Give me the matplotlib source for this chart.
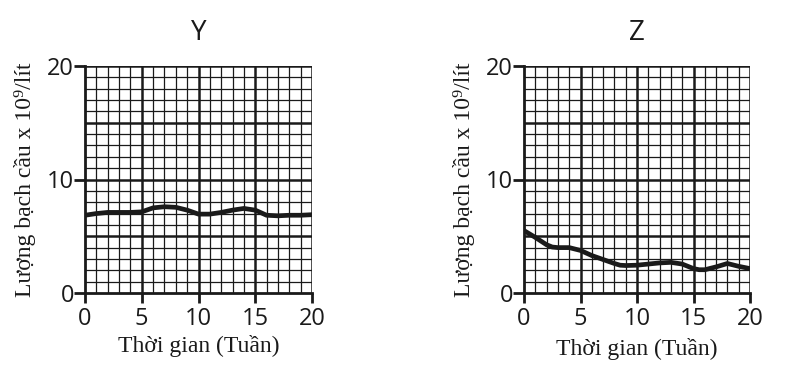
import matplotlib
matplotlib.use("Agg")
import matplotlib.pyplot as plt
import numpy as np

weeks = [0, 1, 2, 3, 4, 5, 6, 7, 8, 9, 10, 11, 12, 13, 14, 15, 16, 17, 18, 19, 20]
y_counts = [6.85, 7.0, 7.1, 7.1, 7.1, 7.15, 7.5, 7.6, 7.55, 7.3, 6.95, 6.95, 7.1, 7.3, 7.45, 7.3, 6.85, 6.8, 6.85, 6.85, 6.9]
z_weeks = [0, 1, 2, 2.5, 3, 4, 5, 6, 7, 8, 8.5, 9, 10, 11, 12, 13, 14, 15, 15.5, 16, 17, 18, 19, 20]
z_counts = [5.5, 4.9, 4.25, 4.05, 4.0, 4.0, 3.75, 3.3, 2.95, 2.6, 2.45, 2.42, 2.45, 2.55, 2.65, 2.7, 2.55, 2.15, 2.05, 2.05, 2.3, 2.6, 2.35, 2.15]

titles = ["Y", "Z"]
xticks = [0, 5, 10, 15, 20]
yticks = [0, 10, 20]
xlabel = "Thời gian (Tuần)"
ylabel = "Lượng bạch cầu x 10⁹/lít"

fig = plt.figure(figsize=(7.91, 3.73), dpi=100)
W, H = 791, 373
boxes = [(85, 66, 312, 293), (524, 66, 750, 293)]
serif = ["Liberation Serif", "DejaVu Serif"]
sans = ["Open Sans", "DejaVu Sans"]

series = [(weeks, y_counts), (z_weeks, z_counts)]
for i, (l, t, r, b) in enumerate(boxes):
    ax = fig.add_axes([l / W, 1 - b / H, (r - l) / W, (b - t) / H])
    ax.set_xlim(0, 20)
    ax.set_ylim(0, 20)
    for v in range(1, 21):
        major = v % 5 == 0
        lw = 1.8 if major else 0.9
        ax.axvline(v, color="#1a1a1a", lw=lw, zorder=1)
        ax.axhline(v, color="#1a1a1a", lw=lw, zorder=1)
    xs, ys = series[i]
    ax.plot(xs, ys, color="#1a1a1a", lw=3.4, solid_joinstyle="round",
            solid_capstyle="round", zorder=3)
    for s in ["top", "right"]:
        ax.spines[s].set_visible(False)
    for s in ["left", "bottom"]:
        ax.spines[s].set_linewidth(2.0)
        ax.spines[s].set_color("#1a1a1a")
    ax.set_xticks(xticks)
    ax.set_yticks(yticks)
    ax.tick_params(direction="out", length=8, width=2.0, color="#1a1a1a",
                   labelsize=17)
    ax.tick_params(axis="x", length=7.5, pad=2.5)
    ax.tick_params(axis="y", pad=0)
    for lab in ax.get_xticklabels() + ax.get_yticklabels():
        lab.set_family(sans)
        lab.set_color("#1a1a1a")
    ax.set_xlabel(xlabel, family=serif, fontsize=17, color="#1a1a1a",
                  labelpad=3 + i * 2)
    ax.set_ylabel(ylabel, family=serif, fontsize=17, color="#1a1a1a", labelpad=8)
    ax.set_title(titles[i], family=sans, fontsize=20, color="#1a1a1a", pad=19)

fig.savefig("out.png", dpi=100)
